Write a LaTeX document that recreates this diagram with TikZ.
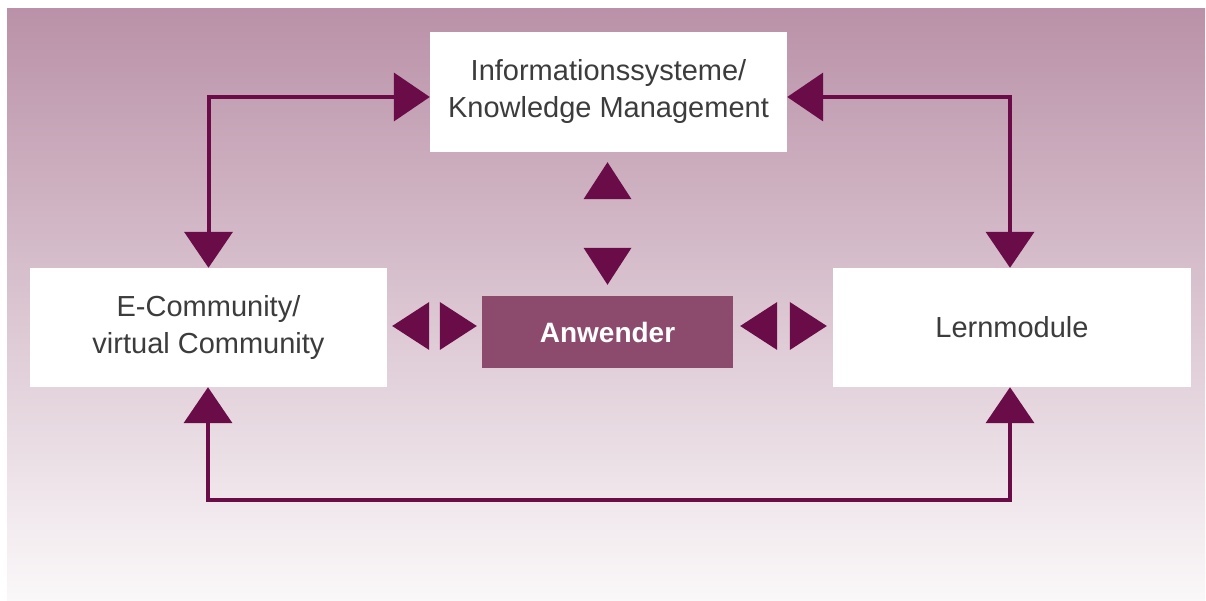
\documentclass[tikz,border=0pt]{standalone}
\usepackage{fontspec}
\setmainfont{Liberation Sans}
\usetikzlibrary{arrows.meta,calc}
\definecolor{purp}{HTML}{6A0C48}
\definecolor{anwc}{HTML}{8C4B6C}
\definecolor{txtc}{HTML}{3C3C3C}
\begin{document}
\begin{tikzpicture}[x=1pt, y=1pt, line join=miter,
	box/.style={fill=white, inner sep=0pt, align=center, text=txtc, font=\fontsize{29}{37}\selectfont},
	conn/.style={purp, line width=4pt, {Triangle[length=36pt,width=48pt]}-{Triangle[length=36pt,width=48pt]}}]
	\useasboundingbox (0,0) rectangle (1206,600);
	\shade[top color=purp!30!anwc!55!white, middle color=anwc!28!white, bottom color=anwc!4!white] (7,0) rectangle (1205,591);
	% boxes
	\node[box, minimum width=357pt, minimum height=120pt] (info) at (608.5,508) {Informationssysteme/\\Knowledge Management};
	\node[box, minimum width=357pt, minimum height=119pt] (ecom) at (208.5,272.5) {E-Community/\\virtual Community};
	\node[box, minimum width=358pt, minimum height=119pt] (lern) at (1012,272.5) {Lernmodule};
	\node[box, fill=anwc, text=white, minimum width=251pt, minimum height=72pt, font=\fontsize{28}{34}\selectfont\bfseries] (anw) at (607.5,268) {Anwender};
	% connectors
	\draw[conn] (ecom.north) |- ($(info.west)+(0,-5)$);
	\draw[conn] ($(lern.north)+(-2,0)$) |- ($(info.east)+(0,-5)$);
	\draw[conn] ($(ecom.south)+(-0.5,0)$) -- ++(0,-113) -| ($(lern.south)+(-2,0)$);
	% single arrowheads round Anwender
	\coordinate (u) at ($(info.south)+(-1,-10)$);
	\coordinate (d) at ($(anw.north)+(0,11)$);
	\coordinate (l1) at ($(ecom.east)+(5,1.5)$);
	\coordinate (l2) at ($(anw.west)+(-5,6)$);
	\coordinate (r1) at ($(anw.east)+(7,6)$);
	\coordinate (r2) at ($(lern.west)+(-6,1.5)$);
	\foreach \p/\a in {u/90,d/-90,l1/180,l2/0,r1/180,r2/0}
		\fill[purp, shift={(\p)}, rotate=\a] (0,0) -- (-37,24) -- (-37,-24) -- cycle;
\end{tikzpicture}
\end{document}
